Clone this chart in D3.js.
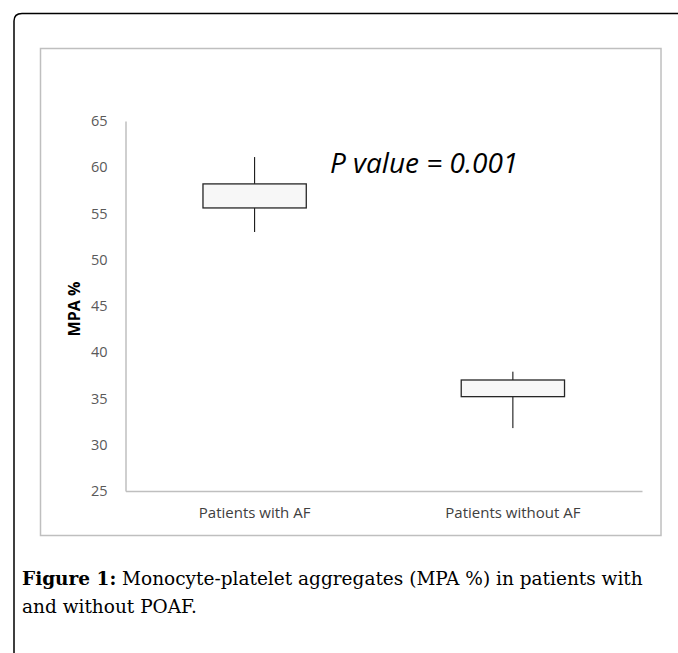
<!DOCTYPE html>
<html>
<head>
<meta charset="utf-8">
<script src="https://cdn.jsdelivr.net/npm/d3@7"></script>
<style>
  body { margin: 0; background: #fff; }
  svg { display: block; }
</style>
</head>
<body>
<svg id="chart"></svg>
<script>
// data
const groups = ['Patients with AF', 'Patients without AF'];
const whiskerLow = [53.0, 31.8];
const boxLow = [55.6, 35.2];
const boxHigh = [58.2, 37.0];
const whiskerHigh = [61.1, 37.9];
const yTicks = [25, 30, 35, 40, 45, 50, 55, 60, 65];

const W = 678, H = 653;
const sans = 'Open Sans';
const svg = d3.select('#chart').attr('width', W).attr('height', H);

// outer frame, rounded at top-left, open past the right and bottom edges
svg.append('path')
  .attr('d', 'M14,660 L14,21 Q14,13.5 22,13.5 L690,13.5')
  .attr('fill', 'none')
  .attr('stroke', '#000')
  .attr('stroke-width', 1.5);

// chart box
svg.append('rect')
  .attr('x', 40.5).attr('y', 48.5)
  .attr('width', 620.5).attr('height', 487)
  .attr('fill', '#fff')
  .attr('stroke', '#bfbfbf')
  .attr('stroke-width', 1.5);

const margin = { left: 125.5, top: 121, right: 642, bottom: 491 };

const y = d3.scaleLinear().domain([25, 65]).range([margin.bottom, margin.top]);
const x = d3.scaleBand().domain(groups).range([margin.left, margin.right]);
const boxW = x.bandwidth() * 0.4;

// axes
const yAxis = d3.axisLeft(y).tickValues(yTicks).tickSize(0).tickPadding(18);
const gy = svg.append('g')
  .attr('transform', `translate(${margin.left},0)`)
  .call(yAxis);
gy.select('.domain').attr('stroke', '#bfbfbf').attr('stroke-width', 1.5);
gy.selectAll('text')
  .attr('font-family', sans)
  .attr('font-size', 14.5)
  .attr('fill', '#595959');

const xAxis = d3.axisBottom(x).tickSize(0).tickPadding(16);
const gx = svg.append('g')
  .attr('transform', `translate(0,${margin.bottom})`)
  .call(xAxis);
gx.select('.domain').attr('stroke', '#bfbfbf').attr('stroke-width', 1.5);
gx.selectAll('text')
  .attr('font-family', sans)
  .attr('font-size', 15)
  .attr('fill', '#404040');

// y title
svg.append('text')
  .attr('transform', `translate(80,309) rotate(-90)`)
  .attr('text-anchor', 'middle')
  .attr('font-family', sans)
  .attr('font-weight', 'bold')
  .attr('font-size', 16)
  .attr('fill', '#000')
  .text('MPA %');

// whiskers and boxes
const boxes = svg.append('g').selectAll('g')
  .data(groups)
  .enter().append('g');

boxes.append('line')
  .attr('x1', d => x(d) + x.bandwidth() / 2)
  .attr('x2', d => x(d) + x.bandwidth() / 2)
  .attr('y1', (d, i) => y(whiskerLow[i]))
  .attr('y2', (d, i) => y(whiskerHigh[i]))
  .attr('stroke', '#000')
  .attr('stroke-width', 1);

boxes.append('rect')
  .attr('x', d => x(d) + x.bandwidth() / 2 - boxW / 2)
  .attr('y', (d, i) => y(boxHigh[i]))
  .attr('width', boxW)
  .attr('height', (d, i) => y(boxLow[i]) - y(boxHigh[i]))
  .attr('fill', '#f7f7f7')
  .attr('stroke', '#262626')
  .attr('stroke-width', 1.3);

// p value
svg.append('text')
  .attr('x', 330).attr('y', 173)
  .attr('font-family', sans)
  .attr('font-style', 'italic')
  .attr('font-size', 28)
  .attr('fill', '#000')
  .text('P value = 0.001');

// caption
const cap = svg.append('text')
  .attr('font-family', 'DejaVu Serif')
  .attr('font-size', 18.5)
  .attr('fill', '#000');
const l1 = cap.append('tspan').attr('x', 22).attr('y', 585);
l1.append('tspan').attr('font-weight', 'bold').text('Figure 1:');
l1.append('tspan').text(' Monocyte-platelet aggregates (MPA %) in patients with');
cap.append('tspan').attr('x', 22).attr('y', 613).text('and without POAF.');
</script>
</body>
</html>
